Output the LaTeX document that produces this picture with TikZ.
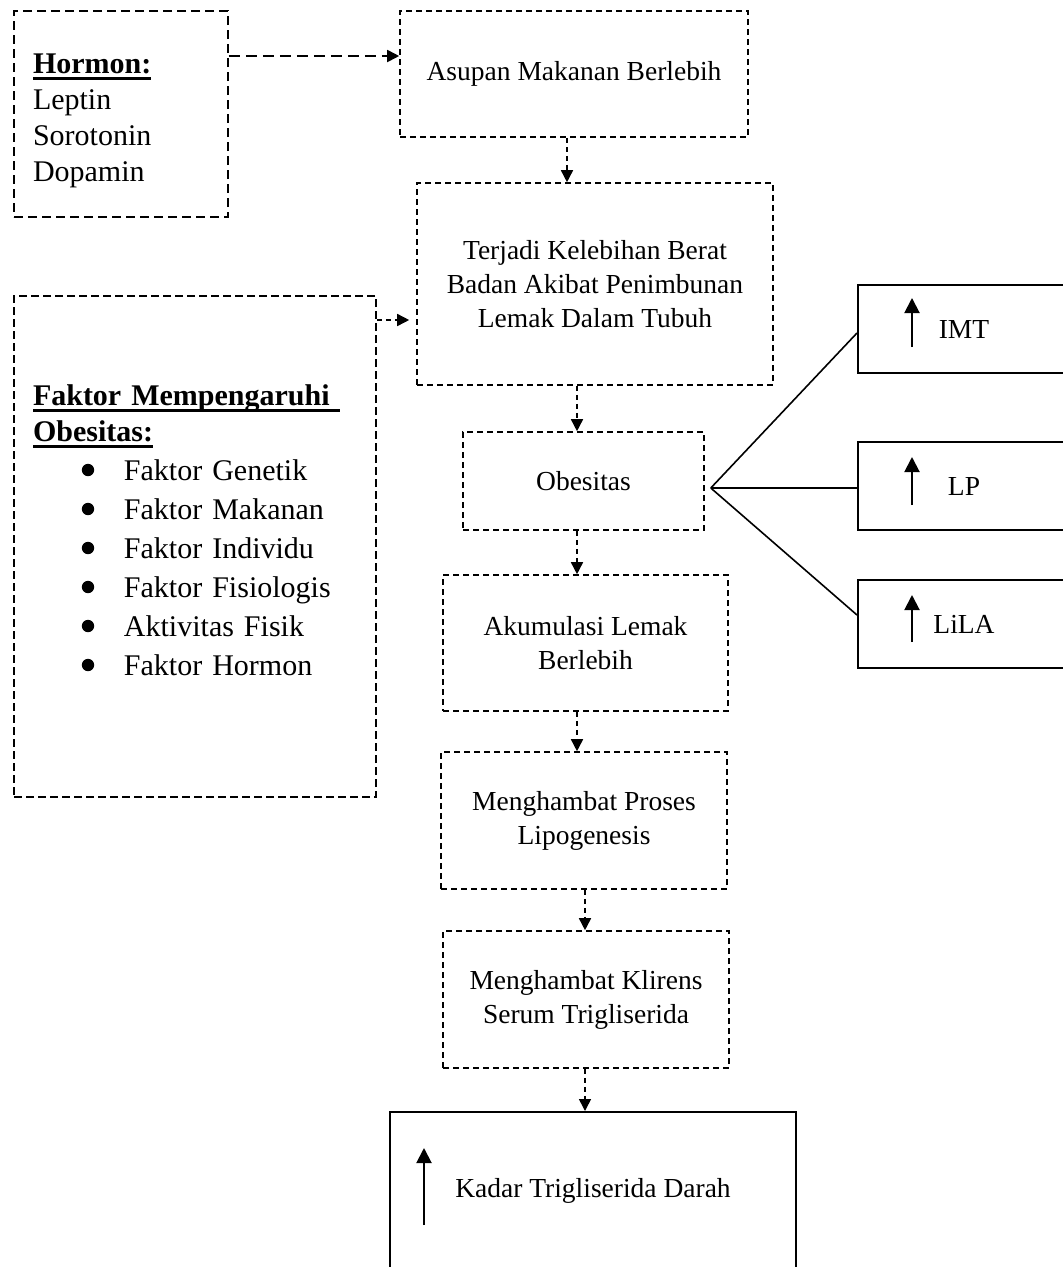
\documentclass[tikz,border=0pt]{standalone}
\usepackage{fontspec}
\setmainfont{Liberation Serif}
\usetikzlibrary{arrows.meta}
\newcommand{\myul}[1]{\leavevmode\setbox0\hbox{#1}\rlap{\rule[-6pt]{\wd0}{2.5pt}}\box0}
\newcommand{\itemgap}{\hspace*{91pt}}
\begin{document}
\begin{tikzpicture}[x=1pt,y=-1pt,
  dbox/.style={draw, line width=1.6pt, dash pattern=on 6pt off 4pt, align=center,
    font=\fontsize{27.5}{34}\selectfont, inner sep=0pt},
  ldbox/.style={draw, line width=1.8pt, dash pattern=on 9pt off 5pt, inner sep=0pt},
  sbox/.style={draw, line width=2pt, align=center, font=\fontsize{27.5}{34}\selectfont, inner sep=0pt},
  lefttext/.style={font=\fontsize{30}{36}\selectfont, align=left, inner sep=0pt},
  arr/.style={line width=1.6pt, dash pattern=on 5pt off 4pt, -{Triangle[length=12pt,width=12pt]}},
  larr/.style={line width=1.8pt, dash pattern=on 11pt off 6pt, -{Triangle[length=12pt,width=12pt]}},
  link/.style={line width=1.6pt},
  uparr/.style={line width=2pt, -{Triangle[length=15pt,width=15pt]}}]
\fill[white] (0,0) rectangle (1063,1267);
\useasboundingbox (0,0) rectangle (1063,1267);

% left boxes
\node[ldbox, minimum width=214pt, minimum height=206pt] (hormon) at (121,114) {};
\node[lefttext, text width=176pt] (hormontext) at ([yshift=-7pt]hormon.center)
  {\myul{\textbf{Hormon:}}\\Leptin\\Sorotonin\\Dopamin};
\node[ldbox, dash pattern=on 8pt off 4pt, minimum width=362pt, minimum height=501pt] (faktor) at (195,546.5) {};
\node[lefttext, text width=324pt] (faktortext) at ([yshift=16pt]faktor.center)
  {\myul{\textbf{Faktor Mempengaruhi\ }}\\
   \myul{\textbf{Obesitas:}}\\[3pt]
   \itemgap Faktor Genetik\\[3pt]
   \itemgap Faktor Makanan\\[3pt]
   \itemgap Faktor Individu\\[3pt]
   \itemgap Faktor Fisiologis\\[3pt]
   \itemgap Aktivitas Fisik\\[3pt]
   \itemgap Faktor Hormon};
\foreach \k in {0,...,5}
  \fill ([xshift=-107pt,yshift={76.5pt-39pt*\k}]faktor.center) circle[radius=6.2pt];

% central chain
\node[dbox, minimum width=348pt, minimum height=126pt] (asupan) at (574,74) {Asupan Makanan Berlebih};
\node[dbox, minimum width=356pt, minimum height=202pt] (terjadi) at (595,284)
  {Terjadi Kelebihan Berat\\Badan Akibat Penimbunan\\Lemak Dalam Tubuh};
\node[dbox, minimum width=241pt, minimum height=98pt] (obes) at (583.5,481) {Obesitas};
\node[dbox, minimum width=285pt, minimum height=136pt] (akum) at (585.5,643) {Akumulasi Lemak\\Berlebih};
\node[dbox, minimum width=286pt, minimum height=137pt] (proses) at (584,820.5) {Menghambat Proses\\Lipogenesis};
\node[dbox, minimum width=286pt, minimum height=137pt] (klir) at (586,999.5) {Menghambat Klirens\\Serum Trigliserida};
\node[sbox, minimum width=406pt, minimum height=158pt] (kadar) at (593,1191)
  {Kadar Trigliserida Darah};

% right boxes
\node[sbox, minimum width=212pt, minimum height=88pt] (imt) at (964,329) {IMT};
\node[sbox, minimum width=212pt, minimum height=88pt] (lp) at (964,486) {LP};
\node[sbox, minimum width=212pt, minimum height=88pt] (lila) at (964,624) {LiLA};

% up arrows inside boxes
\draw[uparr] ([xshift=-52pt,yshift=-18pt]imt.center) -- ([xshift=-52pt,yshift=31pt]imt.center);
\draw[uparr] ([xshift=-52pt,yshift=-19pt]lp.center) -- ([xshift=-52pt,yshift=29pt]lp.center);
\draw[uparr] ([xshift=-52pt,yshift=-18pt]lila.center) -- ([xshift=-52pt,yshift=29pt]lila.center);
\draw[uparr] ([xshift=-169pt,yshift=-34pt]kadar.center) -- ([xshift=-169pt,yshift=43pt]kadar.center);

% connectors
\coordinate (h1) at ([yshift=58pt]hormon.east);
\draw[larr] (h1) -- (h1 -| asupan.west);
\coordinate (f1) at ([yshift=226.5pt]faktor.east);
\draw[arr] (f1) -- ([xshift=-7pt]f1 -| terjadi.west);

\coordinate (c1) at ([xshift=-7pt]asupan.south);
\draw[arr] (c1) -- (c1 |- terjadi.north);
\coordinate (c2) at ([xshift=-6.5pt]obes.north);
\draw[arr] (c2 |- terjadi.south) -- (c2);
\coordinate (c3) at ([xshift=-6.5pt]obes.south);
\draw[arr] (c3) -- (c3 |- akum.north);
\coordinate (c4) at ([xshift=-8.5pt]akum.south);
\draw[arr] (c4) -- (c4 |- proses.north);
\coordinate (c5) at ([xshift=1pt]proses.south);
\draw[arr] (c5) -- (c5 |- klir.north);
\coordinate (c6) at ([xshift=-1pt]klir.south);
\draw[arr] (c6) -- (c6 |- kadar.north);

\coordinate (hub) at ([xshift=6pt,yshift=-7pt]obes.east);
\draw[link] (hub) -- (lp.west |- hub);
\draw[link] (hub) -- ([yshift=9pt]lila.west);
\draw[link] (hub) -- ([yshift=-4pt]imt.west);
\end{tikzpicture}
\end{document}
